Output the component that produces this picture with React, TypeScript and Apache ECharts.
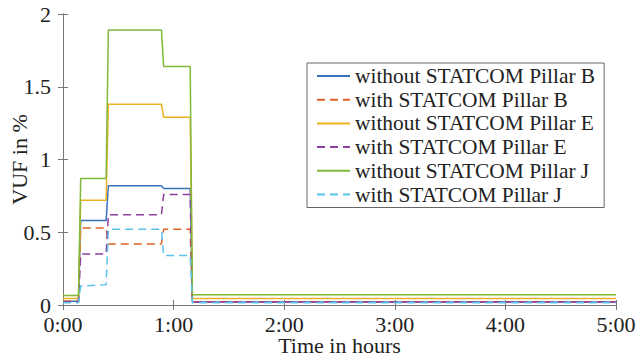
import React, { useEffect, useRef } from "react";
import * as echarts from "echarts";

const times = [0, 0.14, 0.16, 0.39, 0.41, 0.89, 0.91, 1.15, 1.17, 5];
const xTicks = ["0:00", "1:00", "2:00", "3:00", "4:00", "5:00"];
const seriesNames = [
  "without STATCOM Pillar B",
  "with STATCOM Pillar B",
  "without STATCOM Pillar E",
  "with STATCOM Pillar E",
  "without STATCOM Pillar J",
  "with STATCOM Pillar J",
];
const withoutB = [0.025, 0.025, 0.58, 0.58, 0.82, 0.82, 0.8, 0.8, 0.02, 0.02];
const withB = [0.025, 0.025, 0.53, 0.53, 0.42, 0.42, 0.52, 0.52, 0.02, 0.02];
const withoutE = [0.045, 0.045, 0.72, 0.72, 1.38, 1.38, 1.29, 1.29, 0.045, 0.045];
const withE = [0.02, 0.02, 0.35, 0.35, 0.62, 0.62, 0.76, 0.76, 0.02, 0.02];
const withoutJ = [0.065, 0.065, 0.87, 0.87, 1.89, 1.89, 1.64, 1.64, 0.07, 0.07];
const withJ = [0.015, 0.015, 0.13, 0.14, 0.52, 0.52, 0.34, 0.34, 0.015, 0.015];

const seriesValues = [withoutB, withB, withoutE, withE, withoutJ, withJ];
const colors = ["#3872bd", "#e0602a", "#edb120", "#8e3f9e", "#80b83a", "#5bc2ec"];
const dashed = [false, true, false, true, false, true];

const FONT = "Liberation Serif";

export default function App() {
  const ref = useRef<HTMLDivElement>(null);
  useEffect(() => {
    if (!ref.current) return;
    const chart = echarts.init(ref.current, null, { renderer: "svg" });
    const axisLine = { show: true, lineStyle: { color: "#777", width: 1 } };
    const tickStyle = { show: true, inside: true, length: 5, lineStyle: { color: "#777" } };
    chart.setOption({
      animation: false,
      backgroundColor: "#fff",
      grid: {
        left: 63,
        right: 22,
        top: 14,
        bottom: 56,
        containLabel: false,
        outerBoundsMode: "none",
      },
      legend: {
        orient: "vertical",
        left: 307,
        top: 63,
        padding: [2, 9, 2, 9],
        itemWidth: 33,
        itemHeight: 12,
        itemGap: 1.7,
        borderColor: "#666",
        borderWidth: 1,
        backgroundColor: "#fff",
        itemStyle: { opacity: 0 },
        textStyle: { fontFamily: FONT, fontSize: 21.4, color: "#222", lineHeight: 22 },
        data: seriesNames,
      },
      xAxis: [
        {
          type: "value",
          min: 0,
          max: 5,
          interval: 1,
          name: "Time in hours",
          nameLocation: "middle",
          nameGap: 31,
          nameMoveOverlap: false,
          nameTextStyle: { fontFamily: FONT, fontSize: 22, color: "#222", lineHeight: 18 },
          axisLine,
          axisTick: tickStyle,
          splitLine: { show: false },
          axisLabel: {
            fontFamily: FONT,
            fontSize: 22,
            lineHeight: 18,
            color: "#222",
            margin: 10,
            formatter: (v: number) => xTicks[Math.round(v)] ?? "",
          },
        },
        {
          type: "value",
          position: "top",
          min: 0,
          max: 5,
          interval: 1,
          axisLine,
          axisTick: tickStyle,
          axisLabel: { show: false },
          splitLine: { show: false },
        },
      ],
      yAxis: [
        {
          type: "value",
          min: 0,
          max: 2,
          interval: 0.5,
          name: "VUF in %",
          nameLocation: "middle",
          nameGap: 33,
          nameMoveOverlap: false,
          nameTextStyle: { fontFamily: FONT, fontSize: 22, color: "#222" },
          axisLine,
          axisTick: tickStyle,
          splitLine: { show: false },
          axisLabel: { fontFamily: FONT, fontSize: 22, lineHeight: 18, color: "#222", margin: 12 },
        },
        {
          type: "value",
          position: "right",
          min: 0,
          max: 2,
          interval: 0.5,
          axisLine,
          axisTick: tickStyle,
          axisLabel: { show: false },
          splitLine: { show: false },
        },
      ],
      series: seriesNames.map((name, i) => ({
        name,
        type: "line",
        xAxisIndex: 0,
        yAxisIndex: 0,
        showSymbol: false,
        symbol: "none",
        color: colors[i],
        lineStyle: {
          color: colors[i],
          width: 1.5,
          type: dashed[i] ? [8, 5] : "solid",
        },
        data: times.map((t, j) => [t, seriesValues[i][j]]),
      })),
    });
    return () => chart.dispose();
  }, []);
  return (
    <div
      ref={ref}
      style={{ position: "fixed", left: 0, top: 0, width: 638, height: 361 }}
    />
  );
}
